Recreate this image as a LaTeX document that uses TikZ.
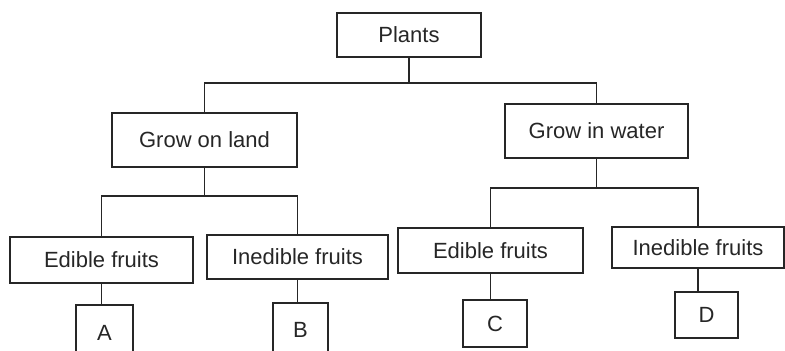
\documentclass[tikz,border=0pt]{standalone}
\usepackage{fontspec}
\setmainfont{Liberation Sans}
\begin{document}
\begin{tikzpicture}[x=0.5pt,y=-0.5pt,
  box/.style={draw=black!85, line width=0.9pt, rectangle, inner sep=0pt, font=\fontsize{11}{13}\selectfont, text=black!85},
  conn/.style={draw=black!85, line width=0.9pt}]
\useasboundingbox (0,0) rectangle (785,350);
\clip (0,0) rectangle (785,350);
% level 0
\node[box, minimum width=72pt, minimum height=22pt] (plants) at (409,35) {Plants};
% level 1
\node[box, minimum width=92.5pt, minimum height=27pt] (gol) at (204.5,140) {Grow on land};
\node[box, minimum width=91.5pt, minimum height=27pt] (giw) at (596.5,131) {Grow in water};
% level 2
\node[box, minimum width=91.5pt, minimum height=23pt] (el) at (101.5,260) {Edible fruits};
\node[box, minimum width=90.5pt, minimum height=22pt] (il) at (297.5,257) {Inedible fruits};
\node[box, minimum width=92.5pt, minimum height=22.5pt] (er) at (490.5,250.5) {Edible fruits};
\node[box, minimum width=86pt, minimum height=20.5pt] (ir) at (698,247.5) {Inedible fruits};
% level 3
\node[box, minimum width=28.5pt, minimum height=27.5pt] (a) at (104.5,332.5) {A};
\node[box, minimum width=27.5pt, minimum height=26.5pt] (b) at (300.5,329.5) {B};
\node[box, minimum width=32pt, minimum height=23.5pt] (c) at (495,323.5) {C};
\node[box, minimum width=31.5pt, minimum height=23pt] (d) at (706.5,315) {D};
% coordinates for bars
\coordinate (bar0) at (409,83);
\coordinate (bar1) at (204.5,196);
\coordinate (bar2) at (596.5,188);
% connectors
\draw[conn] (plants.south) -- (bar0);
\draw[conn] (bar0) -| (gol.north);
\draw[conn] (bar0) -| (giw.north);
\draw[conn] (gol.south) -- (bar1);
\draw[conn] (bar1) -| (el.north);
\draw[conn] (bar1) -| (il.north);
\draw[conn] (giw.south) -- (bar2);
\draw[conn] (bar2) -| (er.north);
\draw[conn] (bar2) -| (ir.north);
\draw[conn] (el.south) -- (el.south |- a.north);
\draw[conn] (il.south) -- (il.south |- b.north);
\draw[conn] (er.south) -- (er.south |- c.north);
\draw[conn] (ir.south) -- (ir.south |- d.north);
\end{tikzpicture}
\end{document}
